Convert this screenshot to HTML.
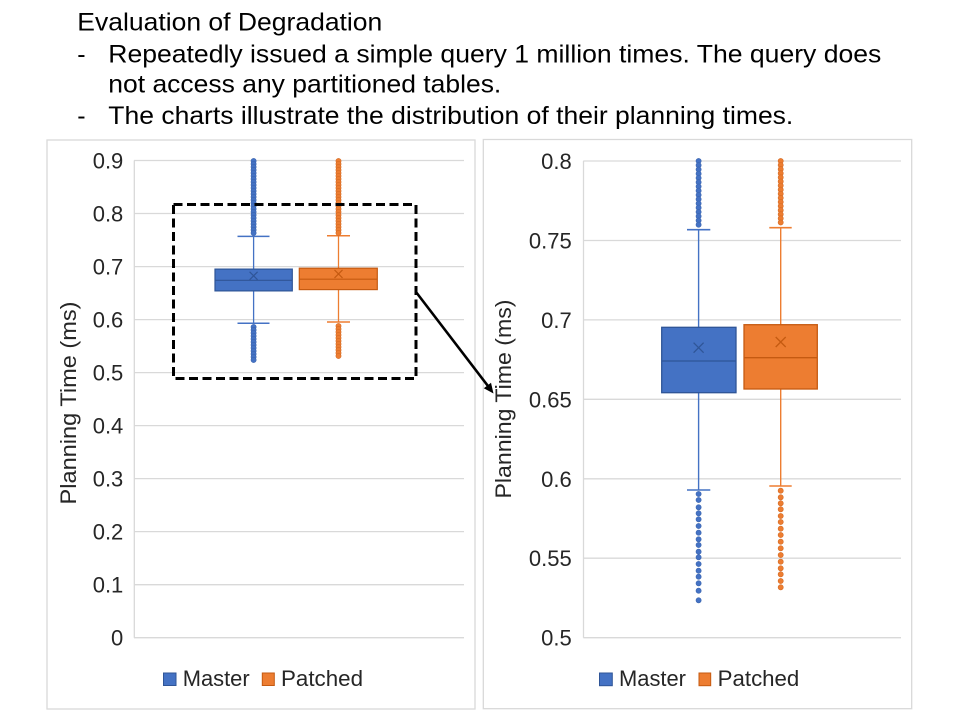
<!DOCTYPE html>
<html>
<head>
<meta charset="utf-8">
<style>
  html, body { margin: 0; padding: 0; background: #ffffff; }
  svg { display: block; }
  text { font-family: "Liberation Sans", Arial, sans-serif; }
</style>
</head>
<body>
<svg width="960" height="720" viewBox="0 0 960 720" xmlns="http://www.w3.org/2000/svg">
  <rect x="0" y="0" width="960" height="720" fill="#ffffff"/>

  <!-- Title text -->
  <g fill="#000000" font-size="25">
    <text x="77.3" y="30.7" textLength="305" lengthAdjust="spacingAndGlyphs">Evaluation of Degradation</text>
    <text x="77.3" y="62.5">-</text>
    <text x="108.3" y="62.5" textLength="773" lengthAdjust="spacingAndGlyphs">Repeatedly issued a simple query 1 million times. The query does</text>
    <text x="108.3" y="92.5" textLength="393" lengthAdjust="spacingAndGlyphs">not access any partitioned tables.</text>
    <text x="77.3" y="124">-</text>
    <text x="108.3" y="124" textLength="685" lengthAdjust="spacingAndGlyphs">The charts illustrate the distribution of their planning times.</text>
  </g>

  <!-- ================= LEFT CHART ================= -->
  <rect x="47" y="140" width="428" height="569" fill="#ffffff" stroke="#d9d9d9" stroke-width="1.3"/>
  <!-- gridlines -->
  <g stroke="#d9d9d9" stroke-width="1.3">
    <line x1="134" y1="160.5" x2="464" y2="160.5"/>
    <line x1="134" y1="213.5" x2="464" y2="213.5"/>
    <line x1="134" y1="266.6" x2="464" y2="266.6"/>
    <line x1="134" y1="319.6" x2="464" y2="319.6"/>
    <line x1="134" y1="372.6" x2="464" y2="372.6"/>
    <line x1="134" y1="425.6" x2="464" y2="425.6"/>
    <line x1="134" y1="478.6" x2="464" y2="478.6"/>
    <line x1="134" y1="531.6" x2="464" y2="531.6"/>
    <line x1="134" y1="584.7" x2="464" y2="584.7"/>
    <line x1="134" y1="637.7" x2="464" y2="637.7"/>
    <line x1="134.3" y1="160.5" x2="134.3" y2="637.7"/>
  </g>
  <!-- tick labels -->
  <g fill="#262626" font-size="22" text-anchor="end">
    <text x="123.3" y="168.5">0.9</text>
    <text x="123.3" y="221.5">0.8</text>
    <text x="123.3" y="274.6">0.7</text>
    <text x="123.3" y="327.6">0.6</text>
    <text x="123.3" y="380.6">0.5</text>
    <text x="123.3" y="433.6">0.4</text>
    <text x="123.3" y="486.6">0.3</text>
    <text x="123.3" y="539.6">0.2</text>
    <text x="123.3" y="592.7">0.1</text>
    <text x="123.3" y="645.7">0</text>
  </g>
  <text fill="#262626" font-size="22" text-anchor="middle" transform="translate(76,403) rotate(-90)" textLength="203" lengthAdjust="spacingAndGlyphs">Planning Time (ms)</text>

  <!-- Master (left) -->
  <g>
    <line x1="253.6" y1="236.4" x2="253.6" y2="269.1" stroke="#4472C4" stroke-width="1.3"/>
    <line x1="253.6" y1="290.9" x2="253.6" y2="323.3" stroke="#4472C4" stroke-width="1.3"/>
    <line x1="237.5" y1="236.4" x2="269.5" y2="236.4" stroke="#4472C4" stroke-width="1.5"/>
    <line x1="237.5" y1="323.3" x2="269.5" y2="323.3" stroke="#4472C4" stroke-width="1.5"/>
    <rect x="215" y="269.1" width="77.3" height="21.8" fill="#4472C4" stroke="#2F5597" stroke-width="1.2"/>
    <line x1="215" y1="280.3" x2="292.3" y2="280.3" stroke="#2F5597" stroke-width="1.2"/>
    <path d="M249.6 271.8 L257.6 279.8 M257.6 271.8 L249.6 279.8" stroke="#2F5597" stroke-width="1.2"/>
    <g fill="#4472C4" stroke="#3A64AF" stroke-width="0.6">
      <circle cx="253.6" cy="161" r="2.6"/><circle cx="253.6" cy="164" r="2.6"/><circle cx="253.6" cy="167" r="2.6"/><circle cx="253.6" cy="170" r="2.6"/><circle cx="253.6" cy="173" r="2.6"/><circle cx="253.6" cy="176" r="2.6"/><circle cx="253.6" cy="179" r="2.6"/><circle cx="253.6" cy="182" r="2.6"/><circle cx="253.6" cy="185" r="2.6"/><circle cx="253.6" cy="188" r="2.6"/><circle cx="253.6" cy="191" r="2.6"/><circle cx="253.6" cy="194" r="2.6"/><circle cx="253.6" cy="197" r="2.6"/><circle cx="253.6" cy="200" r="2.6"/><circle cx="253.6" cy="203" r="2.6"/><circle cx="253.6" cy="206" r="2.6"/><circle cx="253.6" cy="209" r="2.6"/><circle cx="253.6" cy="212" r="2.6"/><circle cx="253.6" cy="215" r="2.6"/><circle cx="253.6" cy="218" r="2.6"/><circle cx="253.6" cy="221" r="2.6"/><circle cx="253.6" cy="224" r="2.6"/><circle cx="253.6" cy="227" r="2.6"/><circle cx="253.6" cy="230" r="2.6"/><circle cx="253.6" cy="233" r="2.6"/>
      <circle cx="253.6" cy="327" r="2.6"/><circle cx="253.6" cy="330" r="2.6"/><circle cx="253.6" cy="333" r="2.6"/><circle cx="253.6" cy="336" r="2.6"/><circle cx="253.6" cy="339" r="2.6"/><circle cx="253.6" cy="342" r="2.6"/><circle cx="253.6" cy="345" r="2.6"/><circle cx="253.6" cy="348" r="2.6"/><circle cx="253.6" cy="351" r="2.6"/><circle cx="253.6" cy="354" r="2.6"/><circle cx="253.6" cy="357" r="2.6"/><circle cx="253.6" cy="360" r="2.6"/>
    </g>
  </g>
  <!-- Patched (left) -->
  <g>
    <line x1="338.5" y1="235.8" x2="338.5" y2="268.2" stroke="#ED7D31" stroke-width="1.3"/>
    <line x1="338.5" y1="289.6" x2="338.5" y2="322.0" stroke="#ED7D31" stroke-width="1.3"/>
    <line x1="327" y1="235.8" x2="350" y2="235.8" stroke="#ED7D31" stroke-width="1.5"/>
    <line x1="327" y1="322.0" x2="350" y2="322.0" stroke="#ED7D31" stroke-width="1.5"/>
    <rect x="299.3" y="268.2" width="78" height="21.4" fill="#ED7D31" stroke="#C55A11" stroke-width="1.2"/>
    <line x1="299.3" y1="279.2" x2="377.3" y2="279.2" stroke="#C55A11" stroke-width="1.2"/>
    <path d="M334.5 269.9 L342.5 277.9 M342.5 269.9 L334.5 277.9" stroke="#C55A11" stroke-width="1.2"/>
    <g fill="#ED7D31" stroke="#D46A24" stroke-width="0.6">
      <circle cx="338.5" cy="161" r="2.6"/><circle cx="338.5" cy="164" r="2.6"/><circle cx="338.5" cy="167" r="2.6"/><circle cx="338.5" cy="170" r="2.6"/><circle cx="338.5" cy="173" r="2.6"/><circle cx="338.5" cy="176" r="2.6"/><circle cx="338.5" cy="179" r="2.6"/><circle cx="338.5" cy="182" r="2.6"/><circle cx="338.5" cy="185" r="2.6"/><circle cx="338.5" cy="188" r="2.6"/><circle cx="338.5" cy="191" r="2.6"/><circle cx="338.5" cy="194" r="2.6"/><circle cx="338.5" cy="197" r="2.6"/><circle cx="338.5" cy="200" r="2.6"/><circle cx="338.5" cy="203" r="2.6"/><circle cx="338.5" cy="206" r="2.6"/><circle cx="338.5" cy="209" r="2.6"/><circle cx="338.5" cy="212" r="2.6"/><circle cx="338.5" cy="215" r="2.6"/><circle cx="338.5" cy="218" r="2.6"/><circle cx="338.5" cy="221" r="2.6"/><circle cx="338.5" cy="224" r="2.6"/><circle cx="338.5" cy="227" r="2.6"/><circle cx="338.5" cy="230" r="2.6"/><circle cx="338.5" cy="233" r="2.6"/>
      <circle cx="338.5" cy="326" r="2.6"/><circle cx="338.5" cy="329" r="2.6"/><circle cx="338.5" cy="332" r="2.6"/><circle cx="338.5" cy="335" r="2.6"/><circle cx="338.5" cy="338" r="2.6"/><circle cx="338.5" cy="341" r="2.6"/><circle cx="338.5" cy="344" r="2.6"/><circle cx="338.5" cy="347" r="2.6"/><circle cx="338.5" cy="350" r="2.6"/><circle cx="338.5" cy="353" r="2.6"/><circle cx="338.5" cy="356" r="2.6"/>
    </g>
  </g>

  <!-- left legend -->
  <rect x="163.5" y="673" width="12.5" height="12.5" fill="#4472C4" stroke="#2F5597" stroke-width="1"/>
  <text x="182.7" y="686" fill="#262626" font-size="22" textLength="67" lengthAdjust="spacingAndGlyphs">Master</text>
  <rect x="262.3" y="673" width="12" height="12.5" fill="#ED7D31" stroke="#C55A11" stroke-width="1"/>
  <text x="281" y="686" fill="#262626" font-size="22" textLength="82" lengthAdjust="spacingAndGlyphs">Patched</text>

  <!-- dashed zoom rectangle -->
  <rect x="173.5" y="204.5" width="242.5" height="174" fill="none" stroke="#000000" stroke-width="3" stroke-dasharray="9 4.5"/>

  <!-- ================= RIGHT CHART ================= -->
  <rect x="483.3" y="139.5" width="428.4" height="569.2" fill="#ffffff" stroke="#d9d9d9" stroke-width="1.3"/>
  <g stroke="#d9d9d9" stroke-width="1.3">
    <line x1="583.3" y1="161" x2="901" y2="161"/>
    <line x1="583.3" y1="240.5" x2="901" y2="240.5"/>
    <line x1="583.3" y1="319.9" x2="901" y2="319.9"/>
    <line x1="583.3" y1="399.3" x2="901" y2="399.3"/>
    <line x1="583.3" y1="478.8" x2="901" y2="478.8"/>
    <line x1="583.3" y1="558.2" x2="901" y2="558.2"/>
    <line x1="583.3" y1="637.7" x2="901" y2="637.7"/>
    <line x1="583.5" y1="161" x2="583.5" y2="637.7"/>
  </g>
  <g fill="#262626" font-size="22" text-anchor="end">
    <text x="571.7" y="169">0.8</text>
    <text x="571.7" y="248.5">0.75</text>
    <text x="571.7" y="327.9">0.7</text>
    <text x="571.7" y="407.3">0.65</text>
    <text x="571.7" y="486.8">0.6</text>
    <text x="571.7" y="566.2">0.55</text>
    <text x="571.7" y="645.7">0.5</text>
  </g>
  <text fill="#262626" font-size="22" text-anchor="middle" transform="translate(511,399) rotate(-90)" textLength="199" lengthAdjust="spacingAndGlyphs">Planning Time (ms)</text>

  <!-- Master (right) -->
  <g>
    <line x1="698.6" y1="229.7" x2="698.6" y2="327.3" stroke="#4472C4" stroke-width="1.4"/>
    <line x1="698.6" y1="392.7" x2="698.6" y2="490" stroke="#4472C4" stroke-width="1.4"/>
    <line x1="687" y1="229.7" x2="710.3" y2="229.7" stroke="#4472C4" stroke-width="1.6"/>
    <line x1="687" y1="490" x2="710.3" y2="490" stroke="#4472C4" stroke-width="1.6"/>
    <rect x="661.7" y="327.3" width="74.3" height="65.4" fill="#4472C4" stroke="#2F5597" stroke-width="1.3"/>
    <line x1="661.7" y1="361" x2="736" y2="361" stroke="#2F5597" stroke-width="1.3"/>
    <path d="M693.6 342.7 L703.6 352.7 M703.6 342.7 L693.6 352.7" stroke="#2F5597" stroke-width="1.3"/>
    <g fill="#4472C4" stroke="#3A64AF" stroke-width="0.6">
      <circle cx="698.6" cy="161" r="2.6"/><circle cx="698.6" cy="165.2" r="2.6"/><circle cx="698.6" cy="169.5" r="2.6"/><circle cx="698.6" cy="173.7" r="2.6"/><circle cx="698.6" cy="178" r="2.6"/><circle cx="698.6" cy="182.2" r="2.6"/><circle cx="698.6" cy="186.5" r="2.6"/><circle cx="698.6" cy="190.7" r="2.6"/><circle cx="698.6" cy="195" r="2.6"/><circle cx="698.6" cy="199.2" r="2.6"/><circle cx="698.6" cy="203.5" r="2.6"/><circle cx="698.6" cy="207.7" r="2.6"/><circle cx="698.6" cy="212" r="2.6"/><circle cx="698.6" cy="216.2" r="2.6"/><circle cx="698.6" cy="220.5" r="2.6"/><circle cx="698.6" cy="224.7" r="2.6"/>
      <circle cx="698.6" cy="494" r="2.6"/><circle cx="698.6" cy="500" r="2.6"/><circle cx="698.6" cy="507.3" r="2.6"/><circle cx="698.6" cy="513.3" r="2.6"/><circle cx="698.6" cy="519.3" r="2.6"/><circle cx="698.6" cy="526" r="2.6"/><circle cx="698.6" cy="532.7" r="2.6"/><circle cx="698.6" cy="539.3" r="2.6"/><circle cx="698.6" cy="545" r="2.6"/><circle cx="698.6" cy="551.7" r="2.6"/><circle cx="698.6" cy="557.3" r="2.6"/><circle cx="698.6" cy="564" r="2.6"/><circle cx="698.6" cy="570.7" r="2.6"/><circle cx="698.6" cy="576.7" r="2.6"/><circle cx="698.6" cy="583.3" r="2.6"/><circle cx="698.6" cy="590.7" r="2.6"/><circle cx="698.6" cy="600.3" r="2.6"/>
    </g>
  </g>
  <!-- Patched (right) -->
  <g>
    <line x1="780.7" y1="227.7" x2="780.7" y2="324.7" stroke="#ED7D31" stroke-width="1.4"/>
    <line x1="780.7" y1="389" x2="780.7" y2="486" stroke="#ED7D31" stroke-width="1.4"/>
    <line x1="769.3" y1="227.7" x2="791.7" y2="227.7" stroke="#ED7D31" stroke-width="1.6"/>
    <line x1="769.3" y1="486" x2="791.7" y2="486" stroke="#ED7D31" stroke-width="1.6"/>
    <rect x="744" y="324.7" width="73.3" height="64.3" fill="#ED7D31" stroke="#C55A11" stroke-width="1.3"/>
    <line x1="744" y1="357.7" x2="817.3" y2="357.7" stroke="#C55A11" stroke-width="1.3"/>
    <path d="M775.7 337 L785.7 347 M785.7 337 L775.7 347" stroke="#C55A11" stroke-width="1.3"/>
    <g fill="#ED7D31" stroke="#D46A24" stroke-width="0.6">
      <circle cx="780.7" cy="161" r="2.6"/><circle cx="780.7" cy="165.1" r="2.6"/><circle cx="780.7" cy="169.2" r="2.6"/><circle cx="780.7" cy="173.3" r="2.6"/><circle cx="780.7" cy="177.4" r="2.6"/><circle cx="780.7" cy="181.5" r="2.6"/><circle cx="780.7" cy="185.6" r="2.6"/><circle cx="780.7" cy="189.7" r="2.6"/><circle cx="780.7" cy="193.8" r="2.6"/><circle cx="780.7" cy="197.9" r="2.6"/><circle cx="780.7" cy="202" r="2.6"/><circle cx="780.7" cy="206.1" r="2.6"/><circle cx="780.7" cy="210.2" r="2.6"/><circle cx="780.7" cy="214.3" r="2.6"/><circle cx="780.7" cy="218.4" r="2.6"/><circle cx="780.7" cy="222.5" r="2.6"/>
      <circle cx="780.7" cy="490.7" r="2.6"/><circle cx="780.7" cy="497.3" r="2.6"/><circle cx="780.7" cy="503.3" r="2.6"/><circle cx="780.7" cy="509.3" r="2.6"/><circle cx="780.7" cy="516" r="2.6"/><circle cx="780.7" cy="522" r="2.6"/><circle cx="780.7" cy="528.7" r="2.6"/><circle cx="780.7" cy="535" r="2.6"/><circle cx="780.7" cy="541.7" r="2.6"/><circle cx="780.7" cy="548.3" r="2.6"/><circle cx="780.7" cy="555" r="2.6"/><circle cx="780.7" cy="561.7" r="2.6"/><circle cx="780.7" cy="568.3" r="2.6"/><circle cx="780.7" cy="574.3" r="2.6"/><circle cx="780.7" cy="581" r="2.6"/><circle cx="780.7" cy="587.3" r="2.6"/>
    </g>
  </g>

  <!-- right legend -->
  <rect x="599.5" y="673" width="12.8" height="12.7" fill="#4472C4" stroke="#2F5597" stroke-width="1"/>
  <text x="619" y="686" fill="#262626" font-size="22" textLength="67" lengthAdjust="spacingAndGlyphs">Master</text>
  <rect x="699" y="673" width="11.7" height="12.7" fill="#ED7D31" stroke="#C55A11" stroke-width="1"/>
  <text x="717.7" y="686" fill="#262626" font-size="22" textLength="81.6" lengthAdjust="spacingAndGlyphs">Patched</text>

  <!-- arrow -->
  <line x1="416" y1="292" x2="488.5" y2="386.7" stroke="#000000" stroke-width="2.6"/>
  <polygon points="493.5,393.5 483.8,388.3 491.0,382.8" fill="#000000"/>
</svg>
</body>
</html>
